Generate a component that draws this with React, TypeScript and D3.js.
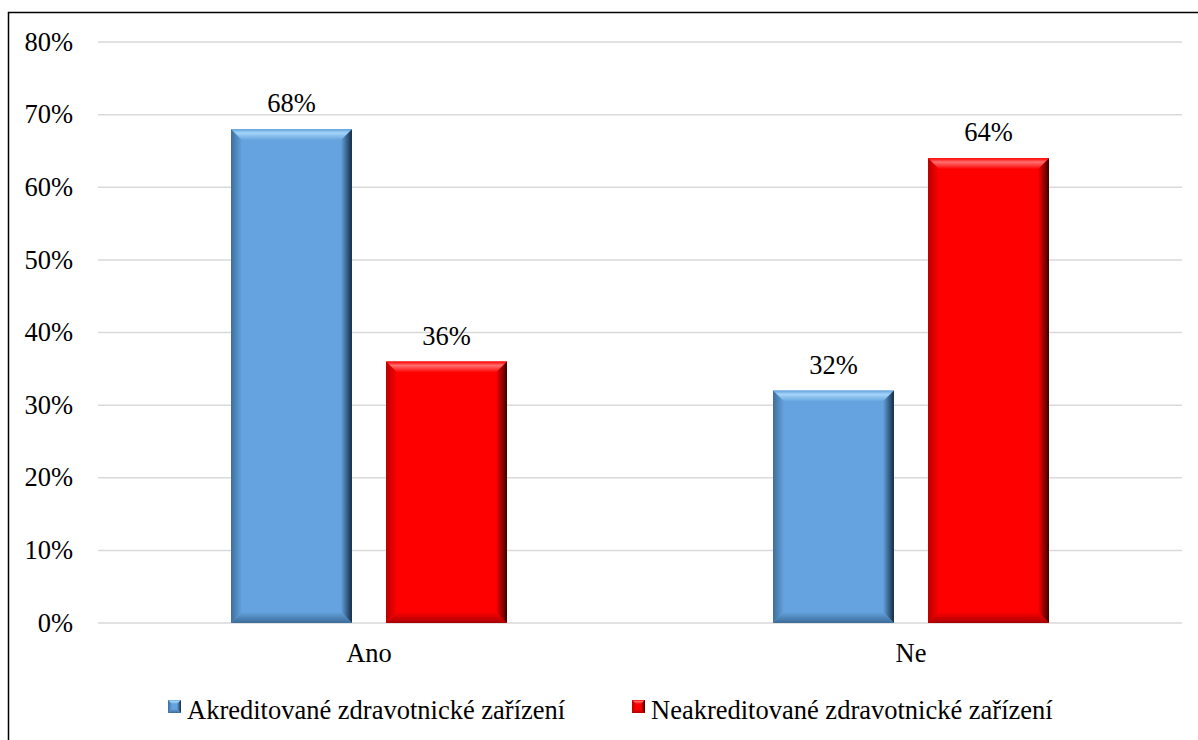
import React from 'react';
import * as d3 from 'd3';

// Data
const categories = ['Ano', 'Ne'];
const seriesNames = ['Akreditované zdravotnické zařízení', 'Neakreditované zdravotnické zařízení'];
const accredited = [0.68, 0.32];
const nonAccredited = [0.36, 0.64];
const yTicks = [0, 0.1, 0.2, 0.3, 0.4, 0.5, 0.6, 0.7, 0.8];

const W = 1198;
const H = 740;
const margin = { top: 42, right: 16, bottom: 117, left: 98 };
const FONT = 'Liberation Serif, DejaVu Serif, serif';

const palettes = [
    { face: '#64A3DF', top: '#A4D4F8', left: '#3E6E9C', right: '#152B44', bottom: '#3C6B96', id: 'b' },
    { face: '#FF0000', top: '#FF7070', left: '#B80000', right: '#3A0000', bottom: '#A80000', id: 'r' },
];

type Pal = typeof palettes[number];

const BevelBar: React.FC<{ x: number; y: number; w: number; h: number; p: Pal; b?: number }> = ({ x, y, w, h, p, b = 11 }) => {
    const bb = Math.min(b, h / 2, w / 2);
    const x2 = x + w;
    const y2 = y + h;
    return (
        <g>
            <rect x={x} y={y} width={w} height={h} fill={p.face} />
            <polygon points={`${x},${y} ${x2},${y} ${x2 - bb},${y + bb} ${x + bb},${y + bb}`} fill={`url(#top-${p.id})`} />
            <polygon points={`${x},${y} ${x + bb},${y + bb} ${x + bb},${y2 - bb} ${x},${y2}`} fill={`url(#left-${p.id})`} />
            <polygon points={`${x2},${y} ${x2},${y2} ${x2 - bb},${y2 - bb} ${x2 - bb},${y + bb}`} fill={`url(#right-${p.id})`} />
            <polygon points={`${x},${y2} ${x + bb},${y2 - bb} ${x2 - bb},${y2 - bb} ${x2},${y2}`} fill={`url(#bottom-${p.id})`} />
        </g>
    );
};

export default function App() {
    const innerW = W - margin.left - margin.right;
    const innerH = H - margin.top - margin.bottom;

    const y = d3.scaleLinear().domain([0, 0.8]).range([margin.top + innerH, margin.top]);
    const x0 = d3.scaleBand().domain(categories).range([margin.left, margin.left + innerW]).paddingInner(0).paddingOuter(0);
    const x1 = d3.scaleBand().domain(['0', '1']).range([133, x0.bandwidth() - 133]).paddingInner(0.22);
    const fmt = d3.format('.0%');

    const series = [accredited, nonAccredited];
    const textStyle = { fontFamily: FONT, fontSize: '26.5px' };

    return (
        <div style={{ position: 'absolute', left: 0, top: 0 }}>
            <svg width={W} height={H} viewBox={`0 0 ${W} ${H}`} style={{ display: 'block', background: '#fff' }}>
                <defs>
                    {palettes.map(p => (
                        <React.Fragment key={p.id}>
                            <linearGradient id={`top-${p.id}`} x1="0" y1="0" x2="0" y2="1">
                                <stop offset="0" stopColor={p.face} />
                                <stop offset="0.35" stopColor={p.top} />
                                <stop offset="1" stopColor={p.face} />
                            </linearGradient>
                            <linearGradient id={`left-${p.id}`} x1="0" y1="0" x2="1" y2="0">
                                <stop offset="0" stopColor={p.left} />
                                <stop offset="1" stopColor={p.face} />
                            </linearGradient>
                            <linearGradient id={`right-${p.id}`} x1="0" y1="0" x2="1" y2="0">
                                <stop offset="0" stopColor={p.face} />
                                <stop offset="1" stopColor={p.right} />
                            </linearGradient>
                            <linearGradient id={`bottom-${p.id}`} x1="0" y1="0" x2="0" y2="1">
                                <stop offset="0" stopColor={p.face} />
                                <stop offset="1" stopColor={p.bottom} />
                            </linearGradient>
                        </React.Fragment>
                    ))}
                </defs>

                {/* outer frame */}
                <rect x={8.5} y={12.5} width={W + 20} height={H + 20} fill="none" stroke="#000" strokeWidth={1.5} />

                {/* gridlines + y labels */}
                {yTicks.map(t => (
                    <g key={t}>
                        <line x1={margin.left} x2={margin.left + innerW} y1={y(t)} y2={y(t)} stroke="#D9D9D9" strokeWidth={1.5} />
                        <text x={73} y={y(t)} dy="0.33em" textAnchor="end" style={textStyle} fill="#000">
                            {fmt(t)}
                        </text>
                    </g>
                ))}

                {/* bars */}
                {categories.map((c, ci) => (
                    <g key={c}>
                        {series.map((s, si) => {
                            const bx = (x0(c) ?? 0) + (x1(String(si)) ?? 0);
                            const bw = x1.bandwidth();
                            const by = y(s[ci]);
                            const bh = y(0) - by;
                            return (
                                <g key={si}>
                                    <BevelBar x={bx} y={by} w={bw} h={bh} p={palettes[si]} />
                                    <text x={bx + bw / 2} y={by - 17} textAnchor="middle" style={textStyle} fill="#000">
                                        {fmt(s[ci])}
                                    </text>
                                </g>
                            );
                        })}
                        <text x={(x0(c) ?? 0) + x0.bandwidth() / 2} y={y(0) + 39} textAnchor="middle" style={textStyle} fill="#000">
                            {c}
                        </text>
                    </g>
                ))}

                {/* legend */}
                {seriesNames.map((n, i) => {
                    const lx = i === 0 ? 168 : 632;
                    return (
                        <g key={n}>
                            <BevelBar x={lx} y={700} w={13} h={13} p={palettes[i]} b={4} />
                            <text x={lx + 19} y={719} style={textStyle} fill="#000">
                                {n}
                            </text>
                        </g>
                    );
                })}
            </svg>
        </div>
    );
}
